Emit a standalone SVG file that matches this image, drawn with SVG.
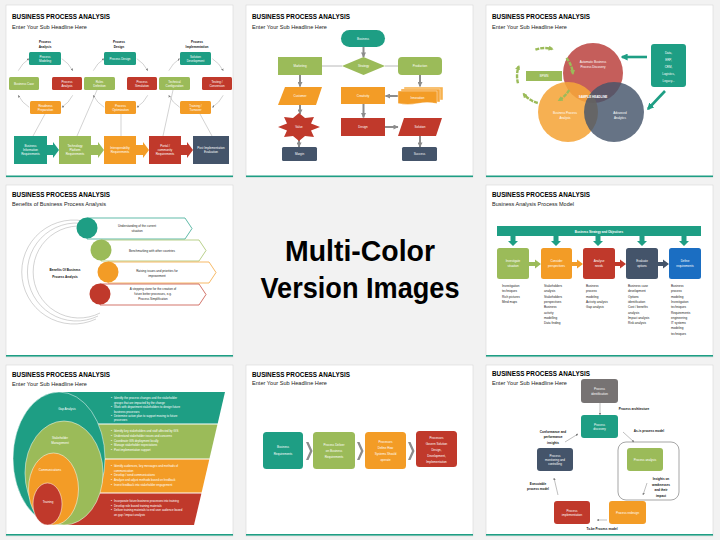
<svg xmlns="http://www.w3.org/2000/svg" width="720" height="540" viewBox="0 0 720 540">
<style>
.bg{fill:#F2F2F2}
.s{fill:#fff;stroke:#d6d6d6;stroke-width:0.6}
.bar{fill:#1E9E84}
.tt{font-family:"Liberation Sans",Arial,sans-serif;font-weight:bold;font-size:7.2px;fill:#000}
.st{font-family:"Liberation Sans",Arial,sans-serif;font-size:5.2px;fill:#222}
.w{font-family:"Liberation Sans",Arial,sans-serif;font-size:3px;fill:#fff;text-anchor:middle}
.wl{font-family:"Liberation Sans",Arial,sans-serif;font-size:2.9px;fill:#fff}
.k{font-family:"Liberation Sans",Arial,sans-serif;font-size:3px;fill:#222;text-anchor:middle}
.kl{font-family:"Liberation Sans",Arial,sans-serif;font-size:3.1px;fill:#222}
.kb{font-family:"Liberation Sans",Arial,sans-serif;font-size:3.1px;font-weight:bold;fill:#111;text-anchor:middle}
.big{font-family:"Liberation Sans",Arial,sans-serif;font-weight:bold;font-size:29px;fill:#000;text-anchor:middle}
.teal{fill:#1E9E84}.green{fill:#9BBB59}.red{fill:#C0392B}.orange{fill:#F39C26}.slate{fill:#44546A}.blue{fill:#1B6EC2}.gray{fill:#777373}
.ln{stroke:#A6A6A6;stroke-width:0.5;fill:none}
.arc{stroke:#A6A6A6;stroke-width:0.5;fill:none;marker-end:url(#as)}
.ga{stroke:#8C8C8C;stroke-width:2;fill:none;marker-end:url(#ag)}
.gl{stroke:#A6A6A6;stroke-width:0.8;fill:none}
.sa{stroke:#7F7F7F;stroke-width:0.5;fill:none;marker-end:url(#as)}
.cyc{stroke:#9BBB59;stroke-width:2.4;fill:none;stroke-dasharray:4 1;marker-end:url(#agr)}
.tar{stroke:#1E9E84;stroke-width:2.6;fill:none;marker-end:url(#at)}
</style>
<defs>
<marker id="ag" viewBox="0 0 10 10" refX="9" refY="5" markerWidth="6" markerHeight="5" markerUnits="userSpaceOnUse" orient="auto"><path d="M0,0 L10,5 L0,10 z" fill="#8C8C8C"/></marker>
<marker id="as" viewBox="0 0 10 10" refX="9" refY="5" markerWidth="2.5" markerHeight="2.5" markerUnits="userSpaceOnUse" orient="auto"><path d="M0,0 L10,5 L0,10 z" fill="#7F7F7F"/></marker>
<marker id="agr" viewBox="0 0 10 10" refX="7" refY="5" markerWidth="5" markerHeight="5" markerUnits="userSpaceOnUse" orient="auto"><path d="M0,0 L10,5 L0,10 z" fill="#9BBB59"/></marker>
<marker id="at" viewBox="0 0 10 10" refX="8" refY="5" markerWidth="7" markerHeight="7" markerUnits="userSpaceOnUse" orient="auto"><path d="M0,0 L10,5 L0,10 z" fill="#1E9E84"/></marker>
</defs>
<rect class="bg" x="0" y="0" width="720" height="540"/>

<!-- ============ SLIDE 1 ============ -->
<g id="slide1">
<rect class="s" x="6" y="5" width="227" height="172"/>
<rect class="bar" x="6" y="175.5" width="227" height="1.6"/>
<text class="tt" x="12" y="19.3" textLength="98" lengthAdjust="spacingAndGlyphs">BUSINESS PROCESS ANALYSIS</text>
<text class="st" x="12" y="28.6" textLength="75" lengthAdjust="spacingAndGlyphs">Enter Your Sub Headline Here</text>
<g id="s1-headers">
<text class="kb" x="45" y="42.5">Process</text><text class="kb" x="45" y="47.5">Analysis</text>
<text class="kb" x="119" y="42.5">Process</text><text class="kb" x="119" y="47.5">Design</text>
<text class="kb" x="197" y="42.5">Process</text><text class="kb" x="197" y="47.5">Implementation</text>
</g>
<g id="s1-connectors">
<path class="arc" d="M61.8 58.7 A30 29 0 0 1 72.7 70.7"/>
<path class="arc" d="M72.7 95.3 A30 29 0 0 1 61.8 107.3"/>
<path class="arc" d="M29.2 107.3 A30 29 0 0 1 18.3 95.3"/>
<path class="arc" d="M18.3 70.7 A30 29 0 0 1 29.2 58.7"/>
<path class="arc" d="M136.8 58.7 A30 29 0 0 1 147.7 70.7"/>
<path class="arc" d="M147.7 95.3 A30 29 0 0 1 136.8 107.3"/>
<path class="arc" d="M104.2 107.3 A30 29 0 0 1 93.3 95.3"/>
<path class="arc" d="M93.3 70.7 A30 29 0 0 1 104.2 58.7"/>
<path class="arc" d="M212.3 58.7 A30 29 0 0 1 223.2 70.7"/>
<path class="arc" d="M223.2 95.3 A30 29 0 0 1 212.3 107.3"/>
<path class="arc" d="M179.7 107.3 A30 29 0 0 1 168.8 95.3"/>
<path class="arc" d="M168.8 70.7 A30 29 0 0 1 179.7 58.7"/>
<line class="ln" x1="45" y1="114" x2="33" y2="136"/>
<line class="ln" x1="97" y1="90" x2="77" y2="136"/>
<line class="ln" x1="121" y1="114" x2="121" y2="136"/>
<line class="ln" x1="173" y1="90" x2="163" y2="136"/>
<line class="ln" x1="200" y1="114" x2="212" y2="136"/>
</g>
<g id="s1-process-modeling"><rect class="teal" x="29" y="52" width="32" height="13" rx="1.5"/><text class="w" x="45" y="57.6">Process</text><text class="w" x="45" y="61.6">Modeling</text></g>
<g id="s1-business-case"><rect class="green" x="9" y="77" width="30" height="13" rx="1.5"/><text class="w" x="24" y="84.6">Business Case</text></g>
<g id="s1-process-analysis"><rect class="red" x="52" y="77" width="30" height="13" rx="1.5"/><text class="w" x="67" y="82.6">Process</text><text class="w" x="67" y="86.6">Analysis</text></g>
<g id="s1-readiness"><rect class="orange" x="30" y="101" width="31" height="13" rx="1.5"/><text class="w" x="45.5" y="106.6">Readiness</text><text class="w" x="45.5" y="110.6">Preparation</text></g>
<g id="s1-process-design"><rect class="teal" x="104" y="52" width="32" height="13" rx="1.5"/><text class="w" x="120" y="59.6">Process Design</text></g>
<g id="s1-rules"><rect class="green" x="84" y="77" width="31" height="13" rx="1.5"/><text class="w" x="99.5" y="82.6">Rules</text><text class="w" x="99.5" y="86.6">Definition</text></g>
<g id="s1-simulation"><rect class="red" x="127" y="77" width="30" height="13" rx="1.5"/><text class="w" x="142" y="82.6">Process</text><text class="w" x="142" y="86.6">Simulation</text></g>
<g id="s1-optimization"><rect class="orange" x="105" y="101" width="31" height="13" rx="1.5"/><text class="w" x="120.5" y="106.6">Process</text><text class="w" x="120.5" y="110.6">Optimization</text></g>
<g id="s1-solution-dev"><rect class="teal" x="180" y="52" width="31" height="13" rx="1.5"/><text class="w" x="195.5" y="57.6">Solution</text><text class="w" x="195.5" y="61.6">Development</text></g>
<g id="s1-technical"><rect class="green" x="159" y="77" width="31" height="13" rx="1.5"/><text class="w" x="174.5" y="82.6">Technical</text><text class="w" x="174.5" y="86.6">Configuration</text></g>
<g id="s1-testing"><rect class="red" x="202" y="77" width="30" height="13" rx="1.5"/><text class="w" x="217" y="82.6">Testing /</text><text class="w" x="217" y="86.6">Conversion</text></g>
<g id="s1-training"><rect class="orange" x="180" y="101" width="31" height="13" rx="1.5"/><text class="w" x="195.5" y="106.6">Training /</text><text class="w" x="195.5" y="110.6">Turnover</text></g>
<g id="s1-req1"><rect class="teal" x="14" y="136" width="33" height="28"/><polygon class="teal" points="47,145 53,145 53,142 59,150 53,158 53,155 47,155"/><text class="w" x="30.5" y="146.5">Business</text><text class="w" x="30.5" y="150.5">Information</text><text class="w" x="30.5" y="154.5">Requirements</text></g>
<g id="s1-req2"><rect class="green" x="59" y="136" width="32" height="28"/><polygon class="green" points="91,145 98,145 98,142 104,150 98,158 98,155 91,155"/><text class="w" x="75" y="146.5">Technology</text><text class="w" x="75" y="150.5">Platform</text><text class="w" x="75" y="154.5">Requirements</text></g>
<g id="s1-req3"><rect class="orange" x="104" y="136" width="32" height="28"/><polygon class="orange" points="136,145 143,145 143,142 149,150 143,158 143,155 136,155"/><text class="w" x="120" y="148.5">Interoperability</text><text class="w" x="120" y="152.5">Requirements</text></g>
<g id="s1-req4"><rect class="red" x="149" y="136" width="32" height="28"/><polygon class="red" points="181,145 187,145 187,142 193,150 187,158 187,155 181,155"/><text class="w" x="165" y="146.5">Portal /</text><text class="w" x="165" y="150.5">community</text><text class="w" x="165" y="154.5">Requirements</text></g>
<g id="s1-req5"><rect class="slate" x="193" y="136" width="36" height="28"/><text class="w" x="211" y="148.5">Post Implementation</text><text class="w" x="211" y="152.5">Evaluation</text></g>
</g>

<!-- ============ SLIDE 2 ============ -->
<g id="slide2">
<rect class="s" x="246" y="5" width="227" height="172"/>
<rect class="bar" x="246" y="175.5" width="227" height="1.6"/>
<text class="tt" x="252" y="19.3" textLength="98" lengthAdjust="spacingAndGlyphs">BUSINESS PROCESS ANALYSIS</text>
<text class="st" x="252" y="28.6" textLength="75" lengthAdjust="spacingAndGlyphs">Enter Your Sub Headline Here</text>
<g id="s2-connectors">
<line class="gl" x1="322" y1="66" x2="342" y2="66"/>
<line class="gl" x1="385" y1="66" x2="398" y2="66"/>
<line class="ga" x1="363.5" y1="47" x2="363.5" y2="57"/>
<line class="ga" x1="300" y1="75" x2="300" y2="86.5"/>
<line class="ga" x1="300" y1="105" x2="300" y2="114"/>
<line class="ga" x1="299" y1="139" x2="299" y2="147"/>
<line class="ga" x1="420" y1="75" x2="420" y2="86.5"/>
<line class="ga" x1="398" y1="96" x2="385.5" y2="96"/>
<line class="ga" x1="363.5" y1="104" x2="363.5" y2="117.5"/>
<line class="ga" x1="385" y1="127" x2="398" y2="127"/>
<line class="ga" x1="420" y1="136" x2="420" y2="147"/>
</g>
<g id="s2-business"><rect class="teal" x="341" y="30" width="44" height="17" rx="8.5"/><text class="w" x="363" y="39.6">Business</text></g>
<g id="s2-marketing"><rect class="green" x="278" y="57" width="44" height="18"/><text class="w" x="300" y="67.1">Marketing</text></g>
<g id="s2-strategy"><polygon class="green" points="342,66 363.5,57 385,66 363.5,75"/><text class="w" x="363.5" y="67.1">Strategy</text></g>
<g id="s2-production"><rect class="green" x="398" y="57" width="44" height="18" rx="4"/><text class="w" x="420" y="67.1">Production</text></g>
<g id="s2-customer"><polygon class="orange" points="285,87 322,87 316,105 278,105"/><text class="w" x="300" y="97.1">Customer</text></g>
<g id="s2-value"><polygon class="red" points="320,127 311,130.4 314,136.9 305,136 299,141 293,136 284,136.9 287,130.4 278,127 287,123.6 284,117.1 293,118 299,113 305,118 314,117.1 311,123.6"/><text class="w" x="299" y="128.1">Value</text></g>
<g id="s2-margin"><rect class="slate" x="282" y="147" width="35" height="14" rx="1.5"/><text class="w" x="299.5" y="155.1">Margin</text></g>
<g id="s2-innovation"><rect x="404" y="87" width="39" height="13" fill="#F7B24F" stroke="#fff" stroke-width="0.4"/><rect x="401" y="89" width="39" height="13" fill="#F5A53A" stroke="#fff" stroke-width="0.4"/><path class="orange" d="M398,91 H437 V103.5 Q427,101.5 417.5,103.5 Q408,105.5 398,103.5 Z" stroke="#fff" stroke-width="0.4"/><text class="w" x="417.5" y="98.5">Innovation</text></g>
<g id="s2-creativity"><rect class="orange" x="341" y="87" width="44" height="17"/><text class="w" x="363" y="96.6">Creativity</text></g>
<g id="s2-design"><rect class="red" x="341" y="118" width="44" height="18"/><text class="w" x="363" y="128.1">Design</text></g>
<g id="s2-solution"><polygon class="red" points="404,118 442,118 436,136 398,136"/><text class="w" x="420" y="128.1">Solution</text></g>
<g id="s2-success"><rect class="slate" x="402" y="147" width="35" height="14" rx="1.5"/><text class="w" x="419.5" y="155.1">Success</text></g>
</g>

<!-- ============ SLIDE 3 ============ -->
<g id="slide3">
<rect class="s" x="486" y="5" width="227" height="172"/>
<rect class="bar" x="486" y="175.5" width="227" height="1.6"/>
<text class="tt" x="492" y="19.3" textLength="98" lengthAdjust="spacingAndGlyphs">BUSINESS PROCESS ANALYSIS</text>
<text class="st" x="492" y="28.6" textLength="75" lengthAdjust="spacingAndGlyphs">Enter Your Sub Headline Here</text>
<g id="s3-discovery"><circle cx="593" cy="73" r="30" fill="#C0504D" opacity="0.92"/></g>
<g id="s3-analysis"><circle cx="568" cy="112" r="30" fill="#F5A53A" opacity="0.88"/></g>
<g id="s3-analytics"><circle cx="614" cy="112" r="30" fill="#44546A" opacity="0.82"/></g>
<g id="s3-labels">
<text class="w" x="593" y="62.5">Automatic Business</text><text class="w" x="593" y="67.5">Process Discovery</text>
<text class="w" x="593" y="98" font-weight="bold" font-size="2.8">SAMPLE HEADLINE</text>
<text class="w" x="565" y="114">Business Process</text><text class="w" x="565" y="119">Analysis</text>
<text class="w" x="620" y="114">Advanced</text><text class="w" x="620" y="119">Analytics</text>
</g>
<g id="s3-connectors">
<path class="cyc" d="M535.4 49.7 A28 28 0 0 1 552.2 49.0"/>
<path class="cyc" d="M566.4 58.0 A28 28 0 0 1 572.9 73.6"/>
<path class="cyc" d="M569.2 90 A28 28 0 0 1 559 100.2"/>
<path class="cyc" d="M537.8 103 A28 28 0 0 1 523.6 94"/>
<path class="cyc" d="M518 83.2 A28 28 0 0 1 518.7 66.4"/>
<line class="tar" x1="647" y1="57" x2="622" y2="57"/>
<line class="tar" x1="665" y1="91" x2="648" y2="109"/>
</g>
<g id="s3-bpmn"><rect class="green" x="526" y="71" width="36" height="10"/><text class="w" x="544" y="77.3" font-size="3.6">BPMN</text></g>
<g id="s3-data"><rect class="teal" x="651" y="44" width="35" height="43" rx="3"/>
<text class="w" x="668.5" y="54" font-size="4.6">Data,</text><text class="w" x="668.5" y="61" font-size="4.6">ERP,</text><text class="w" x="668.5" y="68" font-size="4.6">CRM,</text><text class="w" x="668.5" y="74.8" font-size="4.6">Logistics,</text><text class="w" x="668.5" y="81.7" font-size="4.6">Legacy...</text></g>
</g>

<!-- ============ SLIDE 4 ============ -->
<g id="slide4">
<rect class="s" x="6" y="185" width="227" height="172"/>
<rect class="bar" x="6" y="355" width="227" height="1.6"/>
<text class="tt" x="12" y="196.8" textLength="98" lengthAdjust="spacingAndGlyphs">BUSINESS PROCESS ANALYSIS</text>
<text class="st" x="12" y="206" textLength="94" lengthAdjust="spacingAndGlyphs">Benefits of Business Process Analysis</text>
<g id="s4-connectors">
<path class="ln" d="M96 225 A52 52 0 1 0 96 319"/>
<path class="ln" d="M98 228 A49 49 0 1 0 98 316"/>
<path class="ln" d="M100 231 A46 46 0 1 0 100 313"/>
</g>
<text class="kb" x="65" y="271" font-size="3.5">Benefits Of Business</text>
<text class="kb" x="65" y="277.5" font-size="3.5">Process Analysis</text>
<g id="s4-b1"><polygon points="87,218 185,218 192,228.5 185,239 87,239" fill="#fff" stroke="#1E9E84" stroke-width="0.7"/><circle class="teal" cx="87" cy="228" r="10.5"/><text class="k" x="137" y="227">Understanding of the current</text><text class="k" x="137" y="232">situation</text></g>
<g id="s4-b2"><polygon points="101,240 199,240 206,250.5 199,261 101,261" fill="#fff" stroke="#9BBB59" stroke-width="0.7"/><circle class="green" cx="101" cy="250" r="10.5"/><text class="k" x="152" y="251.8">Benchmarking with other countries</text></g>
<g id="s4-b3"><polygon points="108,262 209,262 216,272.5 209,283 108,283" fill="#fff" stroke="#F39C26" stroke-width="0.7"/><circle class="orange" cx="108" cy="272" r="10.5"/><text class="k" x="157" y="271.5">Raising issues and priorities for</text><text class="k" x="157" y="276.5">improvement</text></g>
<g id="s4-b4"><polygon points="100,284 199,284 206,294.5 199,305 100,305" fill="#fff" stroke="#C0392B" stroke-width="0.7"/><circle class="red" cx="100" cy="294" r="10.5"/><text class="k" x="153" y="290">A stepping stone for the creation of</text><text class="k" x="153" y="295">future better processes, e.g.</text><text class="k" x="153" y="300">Process Simplification</text></g>
</g>

<!-- ============ CENTER ============ -->
<g id="center-title">
<text class="big" x="360" y="261" textLength="150" lengthAdjust="spacingAndGlyphs">Multi-Color</text>
<text class="big" x="360" y="298" textLength="199" lengthAdjust="spacingAndGlyphs">Version Images</text>
</g>

<!-- ============ SLIDE 5 ============ -->
<g id="slide5">
<rect class="s" x="486" y="185" width="227" height="172"/>
<rect class="bar" x="486" y="355" width="227" height="1.6"/>
<text class="tt" x="492" y="196.8" textLength="98" lengthAdjust="spacingAndGlyphs">BUSINESS PROCESS ANALYSIS</text>
<text class="st" x="492" y="206" textLength="82" lengthAdjust="spacingAndGlyphs">Business Analysis Process Model</text>
<g id="s5-strategy"><rect class="teal" x="497" y="226" width="204" height="10"/><text class="w" x="599" y="232.6" font-size="4" font-weight="bold">Business Strategy and Objectives</text></g>
<g id="s5-connectors">
<polygon class="teal" points="510.5,236 515.5,236 515.5,241 518,241 513,246 508,241 510.5,241"/>
<polygon class="teal" points="553.5,236 558.5,236 558.5,241 561,241 556,246 551,241 553.5,241"/>
<polygon class="teal" points="595.5,236 600.5,236 600.5,241 603,241 598,246 593,241 595.5,241"/>
<polygon class="teal" points="639.5,236 644.5,236 644.5,241 647,241 642,246 637,241 639.5,241"/>
<polygon class="teal" points="681.5,236 686.5,236 686.5,241 689,241 684,246 679,241 681.5,241"/>
<polygon class="green" points="529,262 535,262 535,259.5 541,264 535,268.5 535,266 529,266"/>
<polygon class="orange" points="572,262 577,262 577,259.5 583,264 577,268.5 577,266 572,266"/>
<polygon class="red" points="615,262 620,262 620,259.5 626,264 620,268.5 620,266 615,266"/>
<polygon class="slate" points="658,262 663,262 663,259.5 669,264 663,268.5 663,266 658,266"/>
</g>
<g id="s5-investigate"><rect class="green" x="497" y="248" width="32" height="31" rx="2.5"/><text class="w" x="513" y="262">Investigate</text><text class="w" x="513" y="266.5">situation</text></g>
<g id="s5-consider"><rect class="orange" x="541" y="248" width="31" height="31" rx="2.5"/><text class="w" x="556.5" y="262">Consider</text><text class="w" x="556.5" y="266.5">perspectives</text></g>
<g id="s5-analyse"><rect class="red" x="583" y="248" width="32" height="31" rx="2.5"/><text class="w" x="599" y="262">Analyse</text><text class="w" x="599" y="266.5">needs</text></g>
<g id="s5-evaluate"><rect class="slate" x="626" y="248" width="32" height="31" rx="2.5"/><text class="w" x="642" y="262">Evaluate</text><text class="w" x="642" y="266.5">options</text></g>
<g id="s5-define"><rect class="blue" x="669" y="248" width="32" height="31" rx="2.5"/><text class="w" x="685" y="262">Define</text><text class="w" x="685" y="266.5">requirements</text></g>
<g id="s5-lists">
<text class="kl" x="502" y="287">Investigation</text><text class="kl" x="502" y="292.3">techniques</text><text class="kl" x="502" y="297.6">Rich pictures</text><text class="kl" x="502" y="302.9">Mind maps</text>
<text class="kl" x="544" y="287">Stakeholders</text><text class="kl" x="544" y="292.3">analysis</text><text class="kl" x="544" y="297.6">Stakeholders</text><text class="kl" x="544" y="302.9">perspectives</text><text class="kl" x="544" y="308.2">Business</text><text class="kl" x="544" y="313.5">activity</text><text class="kl" x="544" y="318.8">modelling</text><text class="kl" x="544" y="324.1">Data finding</text>
<text class="kl" x="586" y="287">Business</text><text class="kl" x="586" y="292.3">process</text><text class="kl" x="586" y="297.6">modeling</text><text class="kl" x="586" y="302.9">Activity analysis</text><text class="kl" x="586" y="308.2">Gap analysis</text>
<text class="kl" x="628" y="287">Business case</text><text class="kl" x="628" y="292.3">development</text><text class="kl" x="628" y="297.6">Options</text><text class="kl" x="628" y="302.9">identification</text><text class="kl" x="628" y="308.2">Cost / benefits</text><text class="kl" x="628" y="313.5">analysis</text><text class="kl" x="628" y="318.8">Impact analysis</text><text class="kl" x="628" y="324.1">Risk analysis</text>
<text class="kl" x="671" y="287">Business</text><text class="kl" x="671" y="292.3">process</text><text class="kl" x="671" y="297.6">modeling</text><text class="kl" x="671" y="302.9">Investigation</text><text class="kl" x="671" y="308.2">techniques</text><text class="kl" x="671" y="313.5">Requirements</text><text class="kl" x="671" y="318.8">engineering</text><text class="kl" x="671" y="324.1">IT systems</text><text class="kl" x="671" y="329.4">modeling</text><text class="kl" x="671" y="334.7">techniques</text>
</g>
</g>

<!-- ============ SLIDE 6 ============ -->
<g id="slide6">
<rect class="s" x="6" y="365" width="227" height="171"/>
<rect class="bar" x="6" y="534" width="227" height="1.6"/>
<text class="tt" x="12" y="376.7" textLength="98" lengthAdjust="spacingAndGlyphs">BUSINESS PROCESS ANALYSIS</text>
<text class="st" x="12" y="385.6" textLength="75" lengthAdjust="spacingAndGlyphs">Enter Your Sub Headline Here</text>
<g id="s6-bands">
<polygon class="teal" points="59,392 225,392 217.7,423.5 59,423.5"/>
<polygon class="green" points="64,424.5 217.4,424.5 209.5,458.5 64,458.5"/>
<polygon class="orange" points="54,459.5 209.3,459.5 201.6,492.5 54,492.5"/>
<polygon class="red" points="47,493.5 201.4,493.5 194,525 47,525"/>
</g>
<g id="s6-gap"><ellipse class="teal" cx="59" cy="458.5" rx="46" ry="66.5" stroke="#fff" stroke-width="0.5"/><text class="w" x="67" y="409.5" font-size="3.3">Gap Analysis</text></g>
<g id="s6-stakeholder"><ellipse class="green" cx="64" cy="473" rx="39" ry="52" stroke="#fff" stroke-width="0.5"/><text class="w" x="60" y="438.5" font-size="3.3">Stakeholder</text><text class="w" x="60" y="443.8" font-size="3.3">Management</text></g>
<g id="s6-comm"><ellipse class="orange" cx="53.5" cy="489" rx="25" ry="36" stroke="#fff" stroke-width="0.5"/><text class="w" x="50" y="471.2" font-size="3.3">Communications</text></g>
<g id="s6-training"><ellipse class="red" cx="47.5" cy="504" rx="14.5" ry="21" stroke="#fff" stroke-width="0.5"/><text class="w" x="48" y="503" font-size="3.3">Training</text></g>
<g id="s6-text">
<text class="wl" x="111" y="399">•</text><text class="wl" x="114" y="399">Identify the process changes and the stakeholder</text><text class="wl" x="114" y="403.5">groups that are impacted by the change</text>
<text class="wl" x="111" y="408">•</text><text class="wl" x="114" y="408">Work with department stakeholders to design future</text><text class="wl" x="114" y="412.5">business processes</text>
<text class="wl" x="111" y="417">•</text><text class="wl" x="114" y="417">Determine action plan to support moving to future</text><text class="wl" x="114" y="421.3">processes</text>
<text class="wl" x="111" y="432.3">•</text><text class="wl" x="114" y="432.3">Identify key stakeholders and staff affected by GIS</text>
<text class="wl" x="111" y="437">•</text><text class="wl" x="114" y="437">Understand stakeholder issues and concerns</text>
<text class="wl" x="111" y="441.7">•</text><text class="wl" x="114" y="441.7">Coordinate GIS deployment locally</text>
<text class="wl" x="111" y="446.4">•</text><text class="wl" x="114" y="446.4">Manage stakeholder expectations</text>
<text class="wl" x="111" y="451.1">•</text><text class="wl" x="114" y="451.1">Post implementation support</text>
<text class="wl" x="111" y="467">•</text><text class="wl" x="114" y="467">Identify audiences, key messages and methods of</text><text class="wl" x="114" y="471.7">communication</text>
<text class="wl" x="111" y="476.4">•</text><text class="wl" x="114" y="476.4">Develop / send communications</text>
<text class="wl" x="111" y="481.1">•</text><text class="wl" x="114" y="481.1">Analyze and adjust methods based on feedback</text>
<text class="wl" x="111" y="485.8">•</text><text class="wl" x="114" y="485.8">Invest feedback into stakeholder engagement</text>
<text class="wl" x="111" y="502">•</text><text class="wl" x="114" y="502">Incorporate future business processes into training</text>
<text class="wl" x="111" y="506.7">•</text><text class="wl" x="114" y="506.7">Develop role based training materials</text>
<text class="wl" x="111" y="511.4">•</text><text class="wl" x="114" y="511.4">Deliver training materials to end user audience based</text><text class="wl" x="114" y="516.1">on gap / impact analysis</text>
</g>
</g>

<!-- ============ SLIDE 7 ============ -->
<g id="slide7">
<rect class="s" x="246" y="365" width="227" height="171"/>
<rect class="bar" x="246" y="534" width="227" height="1.6"/>
<text class="tt" x="252" y="376.7" textLength="98" lengthAdjust="spacingAndGlyphs">BUSINESS PROCESS ANALYSIS</text>
<text class="st" x="252" y="385.4" textLength="75" lengthAdjust="spacingAndGlyphs">Enter Your Sub Headline Here</text>
<g id="s7-connectors">
<polygon fill="#8C8C8C" points="306,442 308.5,442 312.5,451 308.5,460 306,460 310,451"/>
<polygon fill="#8C8C8C" points="357,442 359.5,442 363.5,451 359.5,460 357,460 361,451"/>
<polygon fill="#8C8C8C" points="408,442 410.5,442 414.5,451 410.5,460 408,460 412,451"/>
</g>
<g id="s7-b1"><rect class="teal" x="263" y="432" width="40" height="37" rx="3.5"/><text class="w" x="283" y="448.2" font-size="3.3">Business</text><text class="w" x="283" y="454.5" font-size="3.3">Requirements</text></g>
<g id="s7-b2"><rect class="green" x="313" y="432" width="42" height="37" rx="3.5"/><text class="w" x="334" y="445.5" font-size="3.3">Process Deliver</text><text class="w" x="334" y="451.8" font-size="3.3">on Business</text><text class="w" x="334" y="458" font-size="3.3">Requirements</text></g>
<g id="s7-b3"><rect class="orange" x="365" y="432" width="41" height="37" rx="3.5"/><text class="w" x="385.5" y="442.5" font-size="3.3">Processes</text><text class="w" x="385.5" y="448.7" font-size="3.3">Define How</text><text class="w" x="385.5" y="455" font-size="3.3">Systems Should</text><text class="w" x="385.5" y="461" font-size="3.3">operate</text></g>
<g id="s7-b4"><rect class="red" x="416" y="431" width="41" height="36" rx="3.5"/><text class="w" x="436.5" y="438.5" font-size="3.3">Processes</text><text class="w" x="436.5" y="444.5" font-size="3.3">Govern Solution</text><text class="w" x="436.5" y="450.5" font-size="3.3">Design,</text><text class="w" x="436.5" y="456.5" font-size="3.3">Development,</text><text class="w" x="436.5" y="462.5" font-size="3.3">Implementation</text></g>
</g>

<!-- ============ SLIDE 8 ============ -->
<g id="slide8">
<rect class="s" x="486" y="365" width="227" height="171"/>
<rect class="bar" x="486" y="534" width="227" height="1.6"/>
<text class="tt" x="492" y="376.3" textLength="98" lengthAdjust="spacingAndGlyphs">BUSINESS PROCESS ANALYSIS</text>
<text class="st" x="492" y="385" textLength="75" lengthAdjust="spacingAndGlyphs">Enter Your Sub Headline Here</text>
<g id="s8-connectors">
<rect x="618" y="442" width="61" height="58" rx="8" fill="none" stroke="#7F7F7F" stroke-width="0.7"/>
<line class="sa" x1="600" y1="403" x2="600" y2="415"/>
<line class="sa" x1="623" y1="432" x2="634" y2="442"/>
<line class="sa" x1="647" y1="483" x2="643" y2="495"/>
<line class="sa" x1="607" y1="520" x2="597" y2="520"/>
<line class="sa" x1="558" y1="495" x2="554" y2="478"/>
<line class="sa" x1="565" y1="442" x2="578" y2="434"/>
</g>
<g id="s8-labels">
<text class="kb" x="634" y="410" font-size="2.9">Process architecture</text>
<text class="kb" x="649" y="432" font-size="2.9">As-is process model</text>
<text class="kb" x="661" y="480" font-size="2.9">Insights on</text><text class="kb" x="661" y="485.5" font-size="2.9">weaknesses</text><text class="kb" x="661" y="491" font-size="2.9">and their</text><text class="kb" x="661" y="496.5" font-size="2.9">impact</text>
<text class="kb" x="602" y="530" font-size="2.9">To-be Process model</text>
<text class="kb" x="538" y="485" font-size="2.9">Executable</text><text class="kb" x="538" y="490.3" font-size="2.9">process model</text>
<text class="kb" x="553" y="433" font-size="2.9">Conformance and</text><text class="kb" x="553" y="438.3" font-size="2.9">performance</text><text class="kb" x="553" y="443.6" font-size="2.9">insights</text>
</g>
<g id="s8-identification"><rect class="gray" x="581" y="379" width="37" height="24" rx="3"/><text class="w" x="599.5" y="390.3">Process</text><text class="w" x="599.5" y="394.5">identification</text></g>
<g id="s8-discovery"><rect class="teal" x="581" y="415" width="37" height="23" rx="3"/><text class="w" x="599.5" y="425.8">Process</text><text class="w" x="599.5" y="430">discovery</text></g>
<g id="s8-analysis"><rect class="green" x="627" y="448" width="36" height="23" rx="3"/><text class="w" x="645" y="460.6">Process analysis</text></g>
<g id="s8-redesign"><rect class="orange" x="609" y="501" width="37" height="23" rx="3"/><text class="w" x="627.5" y="513.6">Process redesign</text></g>
<g id="s8-implementation"><rect class="red" x="554" y="501" width="36" height="23" rx="3"/><text class="w" x="572" y="511.5">Process</text><text class="w" x="572" y="515.7">implementation</text></g>
<g id="s8-monitoring"><rect class="slate" x="537" y="448" width="36" height="23" rx="3"/><text class="w" x="555" y="456.5">Process</text><text class="w" x="555" y="460.7">monitoring and</text><text class="w" x="555" y="464.9">controlling</text></g>
</g>
</svg>
